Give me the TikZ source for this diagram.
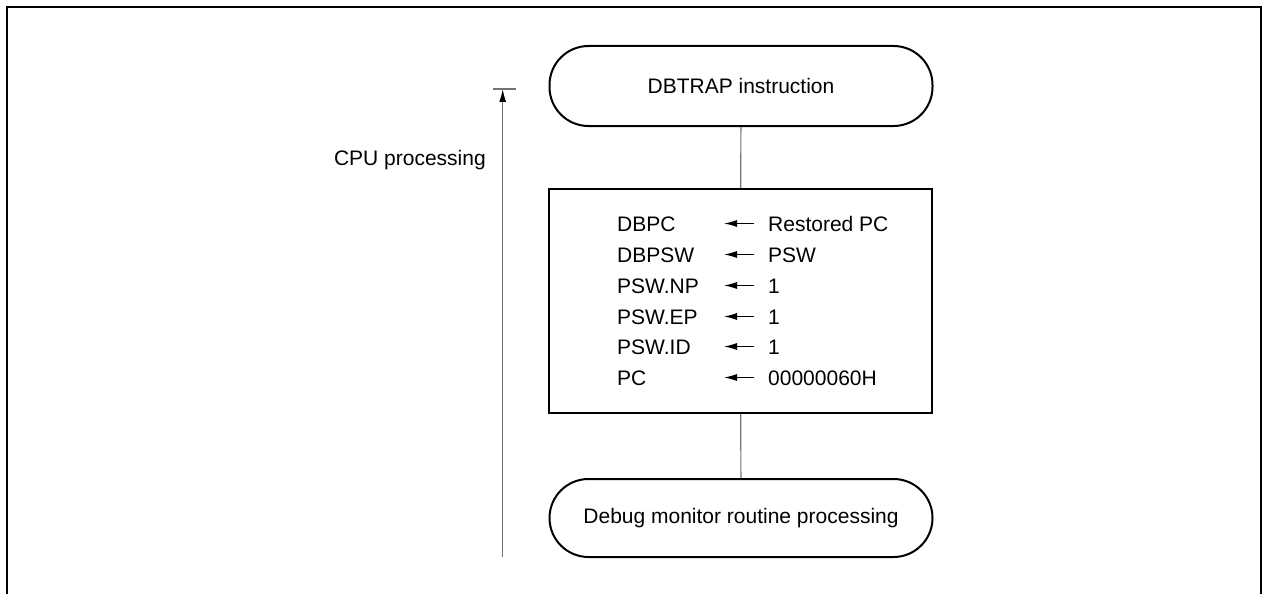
\documentclass[tikz,border=0pt]{standalone}
\usepackage{fontspec}
\setmainfont{Liberation Sans}
\usetikzlibrary{arrows.meta}
\begin{document}
\begin{tikzpicture}[x=1pt,y=-1pt,
  term/.style={draw,line width=2pt,rectangle,rounded corners=39pt,minimum width=383pt,inner sep=0pt},
  procbox/.style={draw,line width=2pt,rectangle,minimum width=383pt,minimum height=224pt,inner sep=0pt},
  conn/.style={draw=black!55,line width=1.2pt},
  txt/.style={inner sep=0pt,anchor=base west},
  asg/.style={line width=1.1pt,-{Latex[length=13pt,width=7pt]}},
  every node/.style={font=\fontsize{21}{25}\selectfont}]
\useasboundingbox (0,0) rectangle (1262,594);
\draw[line width=2.5pt] (7,594) -- (7,7) -- (1261,7) -- (1261,594);
\node[term,minimum height=80pt] (top) at (741,86) {DBTRAP instruction};
\node[procbox] (proc) at (740.5,301) {};
\node[term,minimum height=78pt] (bot) at (741,518) {Debug monitor routine processing};
\draw[conn] (top) -- (proc);
\draw[conn] (proc) -- (bot);
\foreach \i/\l/\r/\y in {1/DBPC/Restored PC/231,2/DBPSW/PSW/262,3/PSW.NP/1/293,4/PSW.EP/1/324,5/PSW.ID/1/354,6/PC/00000060H/385}{
  \node[txt] (l\i) at (617,\y) {\l};
  \node[txt] (r\i) at (768,\y) {\r};
  \coordinate (a\i) at (754,\y-7.5);
  \coordinate (b\i) at (724,\y-7.5);
  \draw[asg] (a\i) -- (b\i);
}
\coordinate (cb) at (502.7,557);
\coordinate (ct) at (502.7,89);
\coordinate (tl) at (493,89);
\coordinate (tr) at (516,89);
\draw[conn,-{Latex[black,length=13pt,width=7pt]}] (cb) -- (ct);
\draw[conn] (tl) -- (tr);
\node[inner sep=0pt,anchor=base east] (cpu) at (486,165) {CPU processing};
\end{tikzpicture}
\end{document}
